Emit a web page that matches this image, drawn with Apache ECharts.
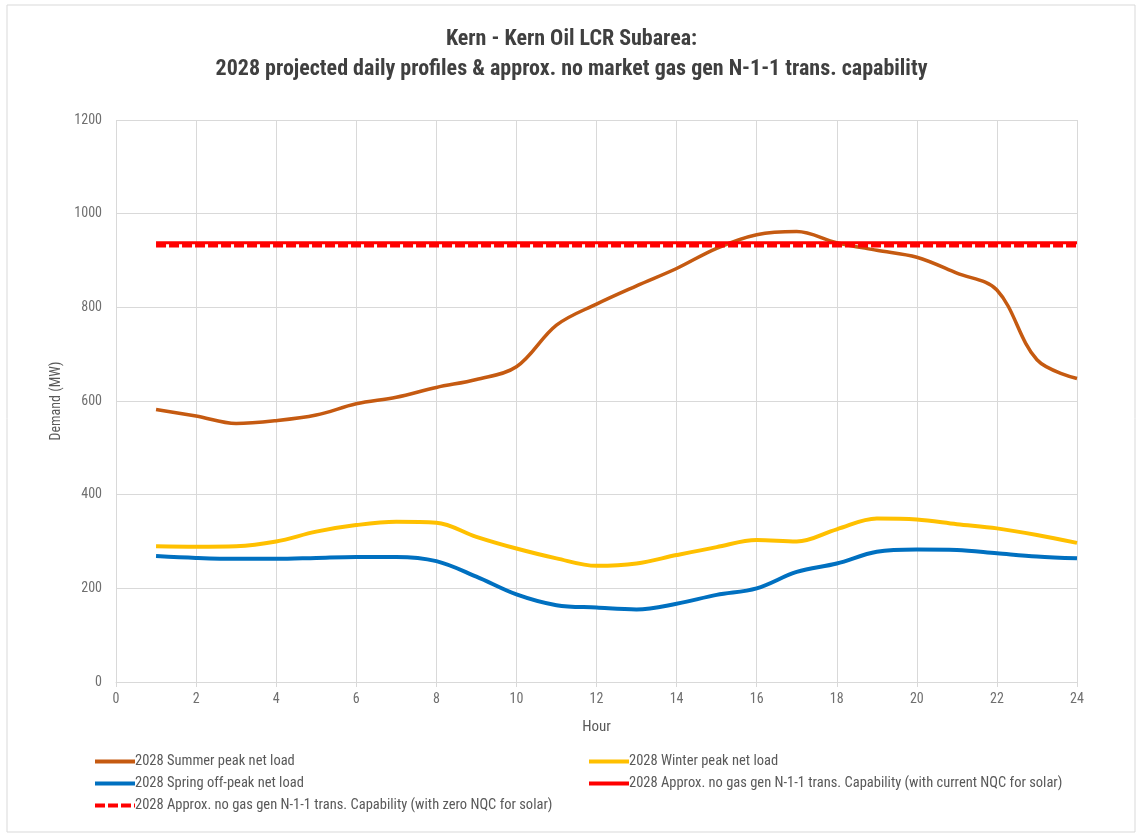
<!DOCTYPE html>
<html>
<head>
<meta charset="utf-8">
<script src="https://cdn.jsdelivr.net/npm/echarts@6/dist/echarts.min.js"></script>
<style>
html,body{margin:0;padding:0;background:#fff;}
#c{width:1143px;height:837px;}
</style>
</head>
<body>
<div id="c"></div>
<script>
const hours = [1,2,3,4,5,6,7,8,9,10,11,12,13,14,15,16,17,18,19,20,21,22,23,24];
const summer = [582,568,552,558,570,594,608,629,646,673,762,807,846,883,926,955,962,938,922,907,873,837,688,648];
const winter = [290,289,290,300,321,335,342,340,310,285,264,248,253,271,288,303,300,326,349,347,337,328,314,297];
const spring = [269,265,263,263,265,267,267,258,225,187,164,159,155,167,186,200,235,253,278,283,282,275,268,264];
const capCurrent = [938,938];
const capZero = [932,932];
const capHours = [1,24];
const yTicks = [0,200,400,600,800,1000,1200];
const names = [
  '2028 Summer peak net load',
  '2028 Winter peak net load',
  '2028 Spring off-peak net load',
  '2028 Approx. no gas gen N-1-1 trans. Capability (with current NQC for solar)',
  '2028 Approx. no gas gen N-1-1 trans. Capability (with zero NQC for solar)'
];
const pair = (xs, ys) => xs.map((x,i)=>[x, ys[i]]);
const FONT = '"Liberation Sans Narrow", "Roboto Condensed", "Liberation Sans", sans-serif';
const legendText = {fontFamily:FONT, fontSize:14.5, color:'#595959', padding:[0,0,0,-5], lineHeight:17, height:17};
const chart = echarts.init(document.getElementById('c'), null, {renderer:'canvas'});
chart.setOption({
  animation:false,
  backgroundColor:'#fff',
  textStyle:{fontFamily:FONT},
  title:{
    text:'Kern - Kern Oil LCR Subarea:\n2028 projected daily profiles & approx. no market gas gen N-1-1 trans. capability',
    left:'center', top:19,
    textStyle:{fontFamily:FONT, fontSize:22, fontWeight:'bold', color:'#404040', lineHeight:30}
  },
  graphic:[{type:'rect', shape:{x:7,y:5,width:1128,height:827}, style:{fill:'none', stroke:'#d9d9d9', lineWidth:1}, silent:true}],
  grid:{left:116, right:66, top:120, bottom:155},
  legend:[
    {left:88, top:748, orient:'vertical', itemGap:5, itemWidth:40, itemHeight:17,
     itemStyle:{opacity:0}, lineStyle:{width:4},
     data:[names[0], names[2], names[4]], textStyle:legendText},
    {left:582, top:748, orient:'vertical', itemGap:5, itemWidth:40, itemHeight:17,
     itemStyle:{opacity:0}, lineStyle:{width:4},
     data:[names[1], names[3]], textStyle:legendText}
  ],
  xAxis:{
    type:'value', min:0, max:24, interval:2,
    name:'Hour', nameLocation:'middle', nameGap:38,
    nameTextStyle:{fontFamily:FONT, fontSize:15, color:'#595959'},
    axisLine:{show:true, lineStyle:{color:'#d9d9d9'}},
    axisTick:{show:true, length:5, lineStyle:{color:'#d9d9d9'}},
    axisLabel:{fontFamily:FONT, fontSize:14, color:'#6f6f6f', margin:10},
    splitLine:{show:true, lineStyle:{color:'#d9d9d9'}}
  },
  yAxis:{
    type:'value', min:yTicks[0], max:yTicks[yTicks.length-1], interval:200,
    name:'Demand (MW)', nameLocation:'middle', nameGap:50,
    nameTextStyle:{fontFamily:FONT, fontSize:14, color:'#595959'},
    axisLine:{show:false}, axisTick:{show:false},
    axisLabel:{fontFamily:FONT, fontSize:14, color:'#6f6f6f', margin:14, formatter:(v)=>String(v)},
    splitLine:{show:true, lineStyle:{color:'#d9d9d9'}}
  },
  series:[
    {name:names[0], type:'line', data:pair(hours,summer), smooth:0.35, symbol:'none',
     lineStyle:{color:'#c55a11', width:3.5}, itemStyle:{color:'#c55a11'}, z:3},
    {name:names[1], type:'line', data:pair(hours,winter), smooth:0.35, symbol:'none',
     lineStyle:{color:'#ffc000', width:4}, itemStyle:{color:'#ffc000'}, z:3},
    {name:names[2], type:'line', data:pair(hours,spring), smooth:0.35, symbol:'none',
     lineStyle:{color:'#0070c0', width:4}, itemStyle:{color:'#0070c0'}, z:3},
    {name:names[3], type:'line', data:pair(capHours,capCurrent), symbol:'none',
     lineStyle:{color:'#ff0000', width:3}, itemStyle:{color:'#ff0000'}, z:4},
    {name:names[4], type:'line', data:pair(capHours,capZero), symbol:'none',
     lineStyle:{color:'#ff0000', width:4, type:[10,3]}, itemStyle:{color:'#ff0000'}, z:5}
  ]
});
</script>
</body>
</html>
